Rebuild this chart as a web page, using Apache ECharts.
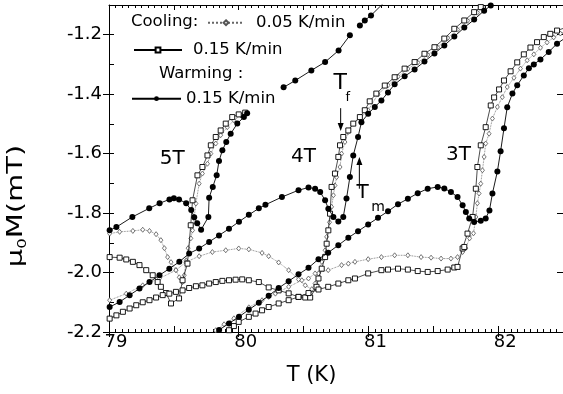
<!DOCTYPE html>
<html>
<head>
<meta charset="utf-8">
<script src="https://cdn.jsdelivr.net/npm/echarts@6/dist/echarts.min.js"></script>
<style>
  html, body { margin: 0; padding: 0; background: #fff; }
  #chart { width: 563px; height: 394px; }
</style>
</head>
<body>
<div id="chart"></div>
<script>
// mu0*M versus T through the vortex-lattice transition at 5 T, 4 T and 3 T.
// Each field has two cooling runs (0.05 and 0.15 K/min) and one warming run (0.15 K/min).
// Points are [T in K, mu0*M in mT].

// ---- 5 T ----
const cool005_5T = [[79.005,-1.869],[79.082,-1.863],[79.184,-1.860],[79.260,-1.856],[79.312,-1.860],[79.363,-1.871],[79.400,-1.891],[79.427,-1.918],[79.452,-1.948],[79.478,-1.965],[79.516,-1.992],[79.542,-2.016],[79.567,-2.032],[79.580,-2.009],[79.595,-1.959],[79.610,-1.918],[79.631,-1.885],[79.644,-1.858],[79.657,-1.813],[79.670,-1.768],[79.695,-1.701],[79.720,-1.667],[79.759,-1.634],[79.785,-1.600],[79.823,-1.566],[79.861,-1.538],[79.912,-1.511],[79.963,-1.488],[80.015,-1.471]];
const cool015_5T = [[79.005,-1.948],[79.082,-1.950],[79.133,-1.956],[79.184,-1.964],[79.235,-1.975],[79.287,-1.992],[79.337,-2.009],[79.375,-2.032],[79.400,-2.048],[79.440,-2.069],[79.478,-2.104],[79.540,-2.087],[79.567,-2.026],[79.605,-1.970],[79.630,-1.841],[79.644,-1.757],[79.682,-1.673],[79.720,-1.645],[79.759,-1.606],[79.785,-1.572],[79.823,-1.544],[79.861,-1.522],[79.900,-1.499],[79.950,-1.477],[80.000,-1.468],[80.050,-1.462]];
const warm015_5T = [[79.005,-1.858],[79.057,-1.847],[79.180,-1.813],[79.310,-1.784],[79.390,-1.767],[79.466,-1.754],[79.500,-1.750],[79.540,-1.754],[79.595,-1.767],[79.634,-1.790],[79.657,-1.814],[79.680,-1.834],[79.710,-1.856],[79.766,-1.813],[79.772,-1.748],[79.800,-1.712],[79.830,-1.673],[79.848,-1.625],[79.874,-1.589],[79.904,-1.561],[79.938,-1.533],[79.989,-1.499],[80.040,-1.477],[80.065,-1.464],
  ['-','-'],[80.346,-1.377],[80.436,-1.354],[80.560,-1.320],[80.666,-1.292],[80.770,-1.253],[80.857,-1.202],
  ['-','-'],[80.934,-1.169],[80.972,-1.152],[81.020,-1.135],[81.120,-1.092]];

// ---- 4 T ----
const cool005_4T = [[79.005,-2.093],[79.133,-2.071],[79.260,-2.043],[79.389,-2.020],[79.516,-1.992],[79.593,-1.965],[79.695,-1.945],[79.797,-1.931],[79.900,-1.925],[80.000,-1.919],[80.078,-1.922],[80.180,-1.934],[80.231,-1.945],[80.308,-1.966],[80.385,-1.992],[80.461,-2.023],[80.513,-2.043],[80.563,-2.056],[80.589,-2.037],[80.615,-2.003],[80.640,-1.964],[80.666,-1.925],[80.678,-1.880],[80.700,-1.831],[80.716,-1.779],[80.730,-1.740],[80.742,-1.707],[80.755,-1.679],[80.781,-1.645],[80.793,-1.600],[80.819,-1.561],[80.845,-1.527],[80.883,-1.499],[80.934,-1.481],[80.998,-1.454],[81.074,-1.400],[81.151,-1.370],[81.228,-1.341],[81.304,-1.315],[81.380,-1.294],[81.457,-1.268],[81.534,-1.243],[81.611,-1.211],[81.687,-1.183],[81.764,-1.153],[81.840,-1.126],[81.917,-1.098],[81.960,-1.085]];
const cool015_4T = [[79.005,-2.155],[79.057,-2.144],[79.107,-2.132],[79.159,-2.121],[79.210,-2.110],[79.260,-2.100],[79.312,-2.093],[79.363,-2.084],[79.414,-2.076],[79.465,-2.071],[79.516,-2.065],[79.567,-2.060],[79.618,-2.052],[79.670,-2.046],[79.720,-2.043],[79.772,-2.037],[79.823,-2.032],[79.874,-2.028],[79.925,-2.026],[79.976,-2.024],[80.027,-2.023],[80.078,-2.026],[80.155,-2.032],[80.231,-2.050],[80.308,-2.060],[80.385,-2.070],[80.461,-2.082],[80.513,-2.084],[80.551,-2.084],[80.600,-2.048],[80.615,-2.020],[80.640,-1.987],[80.666,-1.948],[80.678,-1.903],[80.691,-1.858],[80.704,-1.802],[80.716,-1.712],[80.742,-1.667],[80.768,-1.611],[80.781,-1.572],[80.806,-1.544],[80.845,-1.522],[80.883,-1.499],[80.934,-1.477],[80.972,-1.454],[81.010,-1.424],[81.061,-1.398],[81.126,-1.371],[81.202,-1.343],[81.279,-1.314],[81.356,-1.292],[81.432,-1.264],[81.509,-1.242],[81.585,-1.213],[81.662,-1.180],[81.739,-1.152],[81.815,-1.124],[81.866,-1.107],[81.900,-1.092]];
const warm015_4T = [[79.005,-2.116],[79.082,-2.099],[79.159,-2.076],[79.235,-2.054],[79.312,-2.032],[79.389,-2.009],[79.465,-1.987],[79.542,-1.964],[79.618,-1.936],[79.695,-1.919],[79.772,-1.897],[79.848,-1.875],[79.925,-1.853],[80.002,-1.829],[80.078,-1.806],[80.155,-1.784],[80.206,-1.772],[80.333,-1.746],[80.461,-1.723],[80.538,-1.714],[80.589,-1.718],[80.628,-1.729],[80.666,-1.757],[80.691,-1.785],[80.730,-1.813],[80.768,-1.828],[80.806,-1.813],[80.831,-1.751],[80.857,-1.679],[80.883,-1.606],[80.920,-1.544],[80.946,-1.494],[80.998,-1.466],[81.049,-1.443],[81.100,-1.421],[81.151,-1.394],[81.202,-1.367],[81.279,-1.340],[81.356,-1.317],[81.432,-1.290],[81.509,-1.263],[81.585,-1.236],[81.662,-1.206],[81.739,-1.176],[81.815,-1.149],[81.892,-1.119],[81.943,-1.102],[81.994,-1.085]];

// ---- 3 T ----
const cool005_3T = [[79.823,-2.194],[79.887,-2.174],[79.963,-2.154],[80.078,-2.117],[80.180,-2.093],[80.231,-2.082],[80.283,-2.071],[80.385,-2.048],[80.487,-2.026],[80.538,-2.020],[80.589,-2.003],[80.690,-1.992],[80.793,-1.975],[80.845,-1.970],[80.896,-1.964],[80.998,-1.955],[81.100,-1.948],[81.202,-1.942],[81.304,-1.942],[81.406,-1.948],[81.483,-1.950],[81.560,-1.953],[81.636,-1.953],[81.687,-1.948],[81.726,-1.931],[81.750,-1.918],[81.780,-1.885],[81.810,-1.868],[81.828,-1.813],[81.840,-1.767],[81.853,-1.734],[81.866,-1.701],[81.879,-1.656],[81.892,-1.611],[81.904,-1.566],[81.930,-1.533],[81.956,-1.482],[81.994,-1.443],[82.032,-1.410],[82.070,-1.376],[82.122,-1.345],[82.172,-1.314],[82.224,-1.286],[82.275,-1.266],[82.326,-1.244],[82.377,-1.226],[82.428,-1.209],[82.480,-1.196],[82.520,-1.188]];
const cool015_3T = [[79.925,-2.194],[79.963,-2.180],[80.000,-2.166],[80.078,-2.149],[80.130,-2.138],[80.180,-2.127],[80.231,-2.116],[80.308,-2.104],[80.385,-2.093],[80.461,-2.082],[80.538,-2.069],[80.615,-2.057],[80.690,-2.048],[80.768,-2.037],[80.845,-2.026],[80.896,-2.020],[80.998,-2.003],[81.100,-1.992],[81.151,-1.990],[81.228,-1.987],[81.304,-1.990],[81.380,-1.995],[81.457,-1.998],[81.534,-1.995],[81.611,-1.990],[81.662,-1.983],[81.687,-1.981],[81.726,-1.919],[81.739,-1.914],[81.764,-1.869],[81.803,-1.813],[81.828,-1.718],[81.840,-1.645],[81.866,-1.572],[81.904,-1.511],[81.943,-1.438],[81.969,-1.411],[82.007,-1.384],[82.045,-1.354],[82.096,-1.323],[82.147,-1.293],[82.198,-1.266],[82.249,-1.243],[82.300,-1.225],[82.352,-1.208],[82.402,-1.197],[82.454,-1.186],[82.520,-1.176]];
const warm015_3T = [[79.849,-2.193],[79.925,-2.171],[80.002,-2.149],[80.078,-2.125],[80.155,-2.102],[80.231,-2.078],[80.308,-2.052],[80.385,-2.029],[80.461,-2.006],[80.538,-1.984],[80.615,-1.955],[80.690,-1.933],[80.768,-1.908],[80.845,-1.883],[80.920,-1.861],[80.998,-1.838],[81.074,-1.816],[81.151,-1.794],[81.228,-1.770],[81.304,-1.752],[81.380,-1.733],[81.457,-1.718],[81.534,-1.712],[81.585,-1.717],[81.636,-1.729],[81.687,-1.746],[81.726,-1.774],[81.751,-1.796],[81.777,-1.818],[81.815,-1.830],[81.866,-1.826],[81.904,-1.818],[81.933,-1.791],[81.956,-1.734],[81.994,-1.660],[82.019,-1.592],[82.045,-1.515],[82.070,-1.444],[82.110,-1.398],[82.147,-1.370],[82.198,-1.337],[82.237,-1.313],[82.275,-1.300],[82.326,-1.283],[82.390,-1.258],[82.454,-1.230],[82.520,-1.210]];

// axis ranges and ticks
const xRange = [79, 82.5];
const yRange = [-2.2, -1.1];
const xMajor = 1, xMid = 0.5;
const yMajor = 0.2, yMinor = 0.1;

// run names and how they read in the key
const runNames = ['Cooling 0.05 K/min', 'Cooling 0.15 K/min', 'Warming 0.15 K/min'];
const keyText = { 'Cooling 0.05 K/min': '0.05 K/min', 'Cooling 0.15 K/min': '0.15 K/min', 'Warming 0.15 K/min': '0.15 K/min' };

// field labels, T_f / T_m markers (data coordinates)
const fieldNotes = [
  { text: '5T', at: [79.488, -1.617], size: 20 },
  { text: '4T', at: [80.500, -1.612], size: 20 },
  { text: '3T', at: [81.695, -1.604], size: 20 },
  { text: 'T',  at: [80.783, -1.364], size: 22 },
  { text: 'f',  at: [80.840, -1.411], size: 13 },
  { text: 'T',  at: [80.956, -1.732], size: 20 },
  { text: 'm',  at: [81.074, -1.782], size: 14 }
];
const arrows = [
  { from: [80.786, -1.447], to: [80.786, -1.524] },
  { from: [80.930, -1.718], to: [80.930, -1.611] }
];

const FONT = 'DejaVu Sans';
const INK = '#000';

// open markers are white-filled shapes with a thin outline
const runStyle = {
  'Cooling 0.05 K/min': {
    symbol: 'diamond', symbolSize: [4, 5],
    itemStyle: { color: '#fff', borderColor: '#555', borderWidth: 0.8 },
    lineStyle: { color: '#666', width: 0.8, type: 'dotted' }, z: 2
  },
  'Cooling 0.15 K/min': {
    symbol: 'rect', symbolSize: 5,
    itemStyle: { color: '#fff', borderColor: INK, borderWidth: 0.9 },
    lineStyle: { color: INK, width: 0.7 }, z: 3
  },
  'Warming 0.15 K/min': {
    symbol: 'circle', symbolSize: 6,
    itemStyle: { color: INK },
    lineStyle: { color: INK, width: 0.9 }, z: 4
  }
};

function run(name, data) {
  return Object.assign({
    type: 'line', name, data,
    showSymbol: true, showAllSymbol: true, clip: true,
    silent: true, emphasis: { disabled: true }, smooth: false
  }, runStyle[name]);
}

const series = [
  run(runNames[0], cool005_5T), run(runNames[0], cool005_4T), run(runNames[0], cool005_3T),
  run(runNames[1], cool015_5T), run(runNames[1], cool015_4T), run(runNames[1], cool015_3T),
  run(runNames[2], warm015_5T), run(runNames[2], warm015_4T), run(runNames[2], warm015_3T)
];

const keyFont = { color: INK, fontFamily: FONT, fontSize: 16.5, lineHeight: 18 };
function keyRow(name, left, top, width, gap) {
  return {
    data: [name], left, top, orient: 'horizontal', padding: 0,
    itemWidth: width, itemHeight: 6, selectedMode: false,
    formatter: n => keyText[n],
    textStyle: Object.assign({ padding: [0, 0, 0, gap] }, keyFont)
  };
}

const axisInk = { color: INK, width: 1 };

const option = {
  animation: false,
  backgroundColor: '#fff',
  textStyle: { fontFamily: FONT, color: INK },
  grid: { left: 109, top: 5, width: 457, height: 327 },
  legend: [
    keyRow(runNames[0], 207, 13.7, 36, 7),
    keyRow(runNames[1], 133, 41, 48, 6),
    keyRow(runNames[2], 131, 89.7, 49, 0)
  ],
  xAxis: [
    {
      type: 'value', min: xRange[0], max: xRange[1], interval: xMajor, position: 'bottom',
      axisLine: { show: true, onZero: false, lineStyle: axisInk },
      axisTick: { show: true, inside: false, length: 5, lineStyle: axisInk },
      axisLabel: { color: INK, fontFamily: FONT, fontSize: 18, margin: 1, padding: [0, 0, 0, 14],
                   showMaxLabel: false, formatter: v => String(Math.round(v)) },
      splitLine: { show: false },
      name: 'T (K)', nameLocation: 'middle', nameGap: 33,
      nameTextStyle: { color: INK, fontFamily: FONT, fontSize: 21, padding: [0, 49, 0, 0] }
    },
    {
      type: 'value', min: xRange[0], max: xRange[1], interval: xMid, position: 'bottom',
      axisLine: { show: false }, axisLabel: { show: false }, splitLine: { show: false },
      axisTick: { show: true, inside: true, length: 6, lineStyle: axisInk },
      minorTick: { show: true, splitNumber: 10, length: 3, lineStyle: axisInk }
    },
    {
      type: 'value', min: xRange[0], max: xRange[1], interval: xMid, position: 'top',
      axisLine: { show: true, onZero: false, lineStyle: axisInk },
      axisLabel: { show: false }, splitLine: { show: false },
      axisTick: { show: true, inside: true, length: 5, lineStyle: axisInk },
      minorTick: { show: true, splitNumber: 10, length: 3, lineStyle: axisInk }
    }
  ],
  yAxis: [
    {
      type: 'value', min: yRange[0], max: yRange[1], interval: yMajor, position: 'left',
      axisLine: { show: true, onZero: false, lineStyle: axisInk },
      axisTick: { show: true, inside: false, length: 6, lineStyle: axisInk },
      axisLabel: { color: INK, fontFamily: FONT, fontSize: 18, margin: 7,
                   showMaxLabel: false, formatter: v => v.toFixed(1) },
      splitLine: { show: false }
    },
    {
      type: 'value', min: yRange[0], max: yRange[1], interval: yMinor, position: 'left',
      axisLine: { show: false }, axisLabel: { show: false }, splitLine: { show: false },
      axisTick: { show: true, inside: true, length: 5, lineStyle: axisInk }
    },
    {
      type: 'value', min: yRange[0], max: yRange[1], interval: yMajor, position: 'right',
      axisLine: { show: true, onZero: false, lineStyle: axisInk },
      axisLabel: { show: false }, splitLine: { show: false },
      axisTick: { show: true, inside: true, length: 6, lineStyle: axisInk }
    }
  ],
  series
};

const chart = echarts.init(document.getElementById('chart'), null, { renderer: 'canvas' });
chart.setOption(option);

// annotations placed from data coordinates
const toPx = p => chart.convertToPixel({ seriesIndex: 0 }, p);
const elements = [];

function label(text, x, y, size, align) {
  return {
    type: 'text', x, y, silent: true, z: 20,
    style: { text, fill: INK, font: size + 'px "' + FONT + '"',
             textAlign: align, textVerticalAlign: 'middle', align, verticalAlign: 'middle' }
  };
}

// vertical axis title, drawn with a widened face
elements.push({
  type: 'text', x: 17, y: 206, rotation: Math.PI / 2, scaleX: 1.38, silent: true, z: 20,
  style: {
    text: '{a|μ}{s|0}{a|M(mT)}', align: 'center', verticalAlign: 'middle',
    textAlign: 'center', textVerticalAlign: 'middle',
    rich: {
      a: { fontFamily: FONT, fontSize: 21, fill: INK, lineHeight: 24 },
      s: { fontFamily: FONT, fontSize: 12, fill: INK, lineHeight: 24, verticalAlign: 'bottom' }
    }
  }
});

// key headings
elements.push(label('Cooling:', 131, 22, 16.5, 'left'));
elements.push(label('Warming :', 159, 74, 16.5, 'left'));

fieldNotes.forEach(n => {
  const [x, y] = toPx(n.at);
  elements.push(label(n.text, x, y, n.size, 'center'));
});

arrows.forEach(a => {
  const [x1, y1] = toPx(a.from);
  const [x2, y2] = toPx(a.to);
  const dir = Math.sign(y2 - y1);
  const headLen = 8, half = 3;
  elements.push({
    type: 'line', silent: true, z: 20,
    shape: { x1, y1, x2, y2: y2 - dir * headLen },
    style: { stroke: INK, lineWidth: 1 }
  });
  elements.push({
    type: 'polygon', silent: true, z: 20,
    shape: { points: [[x2, y2], [x2 - half, y2 - dir * headLen], [x2 + half, y2 - dir * headLen]] },
    style: { fill: INK }
  });
});

chart.setOption({ graphic: { elements } });
</script>
</body>
</html>
